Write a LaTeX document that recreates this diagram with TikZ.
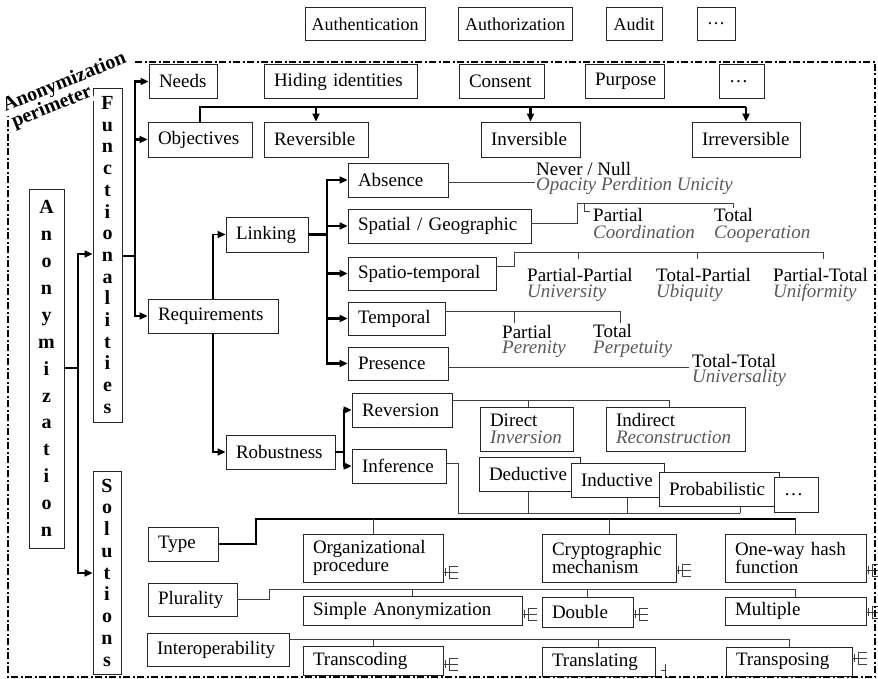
\documentclass[tikz,border=0pt]{standalone}
\usepackage{fontspec}
\setmainfont{Liberation Serif}
\usetikzlibrary{arrows.meta, positioning}
\tikzset{
    block/.style={
        rectangle,
        draw=black!85,
        line width=0.9pt,
        fill=white,
        inner xsep=10pt,
        inner ysep=0pt,
        align=left,
        font=\fontsize{19}{17}\selectfont
    },
    service/.style={block, inner xsep=0pt, align=center, font=\fontsize{18}{17}\selectfont},
    stack/.style={
        rectangle,
        draw=black!85,
        line width=0.9pt,
        fill=white,
        inner sep=0pt,
        align=center
    },
    lbl/.style={anchor=base west, inner sep=0pt, font=\fontsize{19}{17}\selectfont},
    ilbl/.style={lbl, font=\fontsize{19}{17}\selectfont\itshape, text=black!65},
    plabel/.style={anchor=base west, rotate=22, inner sep=0.5pt, fill=white,
        font=\fontsize{20}{20}\selectfont\bfseries},
    bus/.style={line width=2.4pt},
    mid/.style={line width=1.8pt},
    link/.style={line width=0.8pt, draw=black!75},
    arrow/.style={-{Triangle[length=8pt,width=7pt]}},
    perimeter/.style={line width=2pt, dash pattern=on 7pt off 2.5pt on 2pt off 2.5pt},
    efoot/.pic={
        \draw[link] (0,0) -- (15,0) (2,-4) -- (2,4) (15,-6) -- (6,-6) -- (6,6) -- (15,6);
    }
}
\newcommand{\soft}[1]{{\color{black!65}\itshape #1}}

\begin{document}
\begin{tikzpicture}[x=1pt, y=-1pt]
\useasboundingbox (0,0) rectangle (878,679);

% services outside the perimeter
\node (auth) [service, minimum width=120pt, minimum height=33pt] at (365,24) {Authentication};
\node (authz) [service, minimum width=114pt, minimum height=33pt] at (515,24) {Authorization};
\node (audit) [service, minimum width=56pt, minimum height=33pt] at (634,24) {Audit};
\node (moretop) [service, minimum width=38pt, minimum height=33pt] at (716,24) {\dots};

% root and its two branches
\node (anon) [stack, minimum width=35pt, minimum height=359pt,
    font={\fontsize{20}{26.9}\selectfont\bfseries}] at (46.5,368.5)
    {A\\n\\o\\n\\y\\m\\i\\z\\a\\t\\i\\o\\n};
\node (func) [stack, minimum width=29pt, minimum height=334pt,
    font={\fontsize{20}{21.7}\selectfont\bfseries}] at (107.5,255)
    {F\\u\\n\\c\\t\\i\\o\\n\\a\\l\\i\\t\\i\\e\\s};
\node (sol) [stack, minimum width=28pt, minimum height=203pt,
    font={\fontsize{20}{21.75}\selectfont\bfseries}] at (107,572.5)
    {S\\o\\l\\u\\t\\i\\o\\n\\s};

% needs
\node (needs) [block, text width=48pt, minimum height=34pt] at (183,81.5) {Needs};
\node (hiding) [block, text width=133pt, minimum height=34pt] at (340.5,81.5) {Hiding identities};
\node (consent) [block, text width=65pt, minimum height=34pt] at (501.5,81.5) {Consent};
\node (purpose) [block, text width=59pt, minimum height=34pt] at (624.5,81.5) {Purpose};
\node (moreneeds) [block, text width=25pt, minimum height=34pt] at (741.5,81.5) {\dots};

% objectives
\node (objectives) [block, text width=84pt, minimum height=35pt] at (200,139.5) {Objectives};
\node (reversible) [block, text width=84pt, minimum height=35pt] at (316,139.5) {Reversible};
\node (inversible) [block, text width=79pt, minimum height=35pt] at (530.5,139.5) {Inversible};
\node (irreversible) [block, text width=88pt, minimum height=35pt] at (746,139.5) {Irreversible};

% requirements
\node (requirements) [block, text width=110pt, minimum height=34pt] at (213,316) {Requirements};
\node (linking) [block, text width=62pt, minimum height=35pt] at (267,234.5) {Linking};
\node (robustness) [block, text width=89pt, minimum height=34pt] at (280.5,452) {Robustness};

\node (absence) [block, text width=80pt, minimum height=34pt] at (398,180) {Absence};
\node (spatial) [block, text width=163pt, minimum height=34pt] at (439.5,226) {Spatial / Geographic};
\node (spatio) [block, text width=128pt, minimum height=33pt] at (422,273.5) {Spatio-temporal};
\node (temporal) [block, text width=77pt, minimum height=33pt] at (396.5,318.5) {Temporal};
\node (presence) [block, text width=80pt, minimum height=33pt] at (398,363.5) {Presence};

\node (reversion) [block, text width=80pt, minimum height=34pt] at (402,410) {Reversion};
\node (inference) [block, text width=74pt, minimum height=34pt] at (399,466) {Inference};
\node (direct) [block, text width=73pt, minimum height=44pt] at (526.5,429) {Direct\\\soft{Inversion}};
\node (indirect) [block, text width=119pt, minimum height=44pt] at (675.5,429) {Indirect\\\soft{Reconstruction}};

% linking levels
\node (never) [lbl] at (536,176) {Never / Null};
\node (opacity) [ilbl] at (536,191) {Opacity Perdition Unicity};
\node (partialA) [lbl] at (593,222) {Partial};
\node (coordination) [ilbl] at (593,238) {Coordination};
\node (totalA) [lbl] at (714,222) {Total};
\node (cooperation) [ilbl] at (714,238) {Cooperation};
\node (pp) [lbl] at (527,281) {Partial-Partial};
\node (university) [ilbl] at (527,297) {University};
\node (tp) [lbl] at (656,281) {Total-Partial};
\node (ubiquity) [ilbl] at (656,297) {Ubiquity};
\node (pt) [lbl] at (773,281) {Partial-Total};
\node (uniformity) [ilbl] at (773,297) {Uniformity};
\node (partialB) [lbl] at (502,338) {Partial};
\node (perenity) [ilbl] at (502,353) {Perenity};
\node (totalB) [lbl] at (593,337) {Total};
\node (perpetuity) [ilbl] at (593,353) {Perpetuity};
\node (tt) [lbl] at (692,367) {Total-Total};
\node (universality) [ilbl] at (692,382) {Universality};

% inference kinds
\draw[link] (inference.east |- 0,463) -- (458,463) |- (740,513);
\draw[link] (528,513) -- (528,490);
\draw[link] (627,513) -- (627,496);
\draw[link] (740,513) -- (740,505);
\node (deductive) [block, text width=81pt, minimum height=34pt] at (529.5,474) {Deductive};
\node (inductive) [block, text width=73pt, minimum height=34pt] at (617.5,480) {Inductive};
\node (probabilistic) [block, text width=100pt, minimum height=34pt] at (719,489) {Probabilistic};
\node (moreinf) [block, text width=24pt, minimum height=35pt] at (796,494.5) {\dots};

% solutions
\node (type) [block, text width=50pt, minimum height=34pt] at (183,544) {Type};
\node (organizational) [block, text width=120pt, minimum height=48pt] at (373,558) {Organizational\\procedure};
\node (cryptographic) [block, text width=114pt, minimum height=48pt] at (609,558) {Cryptographic\\mechanism};
\node (oneway) [block, text width=121pt, minimum height=48pt] at (795.5,558) {One-way hash\\function};
\node (plurality) [block, text width=69pt, minimum height=33pt] at (192.5,599.5) {Plurality};
\node (simple) [block, text width=199pt, minimum height=29pt] at (412.5,610.5) {Simple Anonymization};
\node (double) [block, text width=71pt, minimum height=30pt] at (587.5,612) {Double};
\node (multiple) [block, text width=121pt, minimum height=28pt] at (795.5,611) {Multiple};
\node (interop) [block, text width=122pt, minimum height=33pt] at (218,649.5) {Interoperability};
\node (transcoding) [block, text width=120pt, minimum height=29pt] at (373,660.5) {Transcoding};
\node (translating) [block, text width=93pt, minimum height=29pt] at (598.5,661.5) {Translating};
\node (transposing) [block, text width=106pt, minimum height=29pt] at (789,661.5) {Transposing};

% main tree
\draw[mid] (anon.east |- 0,368) -- (78,368);
\draw[mid, arrow] (78,368) |- (func.west |- 0,254);
\draw[mid, arrow] (78,368) |- (sol.west |- 0,573);

\draw[bus] (func.east |- 0,256) -- (135,256);
\draw[bus, arrow] (135,256) |- (needs.west);
\draw[bus, arrow] (135,256) |- (objectives.west);
\draw[bus, arrow] (135,256) |- (requirements.west);

\draw[bus] (objectives.north) |- (irreversible.north |- 0,107);
\foreach \n in {reversible, inversible, irreversible}
    \draw[bus, arrow] (\n.north |- 0,107) -- (\n.north);

\draw[mid, arrow] (requirements.north) |- (linking.west);
\draw[mid, arrow] (requirements.south) |- (robustness.west);

\draw[bus] (linking.east) -- (327,234.5);
\foreach \n in {absence, spatial, spatio, temporal, presence}
    \draw[bus, arrow] (327,234.5) |- (\n.west);

\draw[bus] (robustness.east) -- (344,452);
\foreach \n in {reversion, inference}
    \draw[bus, arrow] (344,452) |- (\n.west);

% linking levels
\draw[link] (absence.east |- 0,182) -- (535,182);
\draw[link] (spatial.east |- 0,223) -- (577,223) |- (733,203) -- (733,208);
\draw[link] (584,203) |- (590,211);
\draw[link] (spatio.east |- 0,266) -- (514,266) |- (823,252);
\foreach \x in {578, 697, 823}
    \draw[link] (\x,252) -- (\x,259);
\draw[link] (temporal.east |- 0,311) -| (620,323);
\draw[link] (514,311) -- (514,323);
\draw[link] (presence.east |- 0,367) -- (689,367);

% reversion kinds
\draw[link] (reversion.east |- 0,400) -- (669,400);
\draw[link] (528,400) -- (direct.north -| 528,0);
\draw[link] (669,400) -- (indirect.north -| 669,0);

% solution dimensions
\draw[mid] (type.east) -- (256,544) |- (oneway.north |- 0,519);
\foreach \n in {organizational, cryptographic, oneway}
    \draw[link] (\n.north |- 0,519) -- (\n.north);
\draw[link] (plurality.east) -- (269,599.5) |- (multiple.north |- 0,589);
\foreach \n in {simple, double, multiple}
    \draw[link] (\n.north |- 0,589) -- (\n.north);
\draw[link] (interop.east |- 0,639) -- (transposing.north |- 0,639);
\foreach \n in {transcoding, translating, transposing}
    \draw[link] (\n.north |- 0,639) -- (\n.north);

\pic at (organizational.east |- 0,572) {efoot};
\pic at (cryptographic.east |- 0,570) {efoot};
\pic at (oneway.east |- 0,570) {efoot};
\pic at (simple.east |- 0,614) {efoot};
\pic at (double.east |- 0,614) {efoot};
\pic at (multiple.east |- 0,612) {efoot};
\pic at (transcoding.east |- 0,664) {efoot};
\pic at (transposing.east |- 0,658) {efoot};
\draw[link] (661,670) -- (665,670) (665,664) -- (665,677) -- (669,677);

% perimeter
\draw[perimeter] (135,62) -- (875,62) -- (875,677) -- (8,677) -- (8,100);
\node (perimtop) [plabel] at (5,112) {Anonymization};
\node (perimbot) [plabel] at (14,128) {perimeter};

\end{tikzpicture}
\end{document}
